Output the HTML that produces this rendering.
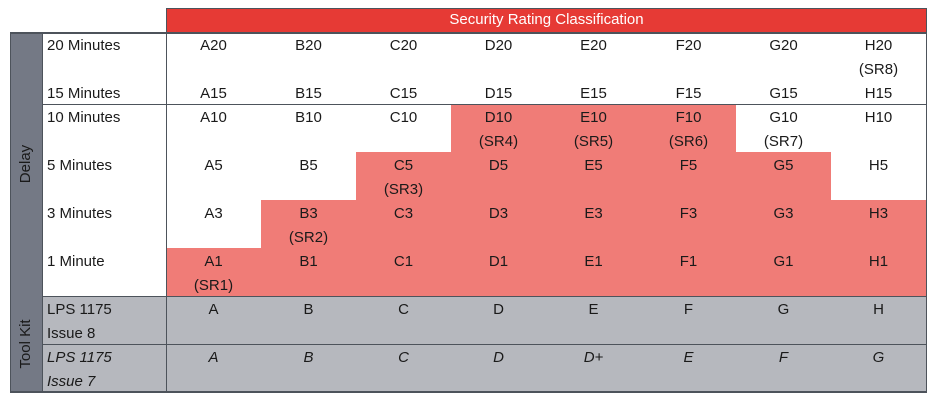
<!DOCTYPE html>
<html><head><style>
body{margin:0;width:937px;height:406px;background:#fff;position:relative;font-family:"Liberation Sans",sans-serif;font-size:15px;color:#1a1a1a;overflow:hidden}
div{position:absolute;box-sizing:border-box}
.l{line-height:24px;white-space:pre}
.c{text-align:center;width:95px}
.red{background:#f07c77}
.gray{background:#b6b8be}
.h{background:#e63a35;color:#fff;text-align:center;line-height:24px}
.bd{background:#4d535b}
i{font-style:italic}
</style></head><body>
<div class="h" style="left:166px;top:8px;width:761px;height:24px">Security Rating Classification</div>
<div style="left:10px;top:32px;width:32px;height:360px;background:#747985"></div>
<div style="left:10px;top:32px;width:32px;height:264px"><div style="left:-40px;top:120px;width:112px;text-align:center;transform:rotate(-90deg);line-height:24px;color:#1a1a1a">Delay</div></div>
<div style="left:10px;top:296px;width:32px;height:96px"><div style="left:-40px;top:36px;width:112px;text-align:center;transform:rotate(-90deg);line-height:24px;color:#1a1a1a">Tool Kit</div></div>
<div class="red" style="left:166px;top:248px;width:95px;height:48px"></div>
<div class="red" style="left:261px;top:200px;width:95px;height:96px"></div>
<div class="red" style="left:356px;top:152px;width:95px;height:144px"></div>
<div class="red" style="left:451px;top:104px;width:285px;height:192px"></div>
<div class="red" style="left:736px;top:152px;width:95px;height:144px"></div>
<div class="red" style="left:831px;top:200px;width:96px;height:96px"></div>
<div class="gray" style="left:42px;top:296px;width:885px;height:96px"></div>
<div class="bd" style="left:10px;top:32px;width:917px;height:2px"></div>
<div class="bd" style="left:42px;top:104px;width:885px;height:1px"></div>
<div class="bd" style="left:42px;top:296px;width:885px;height:1px"></div>
<div class="bd" style="left:42px;top:344px;width:885px;height:1px"></div>
<div class="bd" style="left:10px;top:391px;width:917px;height:2px"></div>
<div class="bd" style="left:166px;top:8px;width:1px;height:384px"></div>
<div class="bd" style="left:926px;top:8px;width:1px;height:384px"></div>
<div class="bd" style="left:42px;top:32px;width:1px;height:360px"></div>
<div class="bd" style="left:10px;top:32px;width:1px;height:360px"></div>
<div class="bd" style="left:166px;top:8px;width:761px;height:1px"></div>
<div class="l" style="left:47px;top:34px">20 Minutes

15 Minutes
10 Minutes

5 Minutes

3 Minutes

1 Minute

LPS 1175
Issue 8
<i>LPS 1175</i>
<i>Issue 7</i></div>
<div class="l c" style="left:166px;top:34px">A20

A15
A10

A5

A3

A1
(SR1)
A

<i>A</i></div>
<div class="l c" style="left:261px;top:34px">B20

B15
B10

B5

B3
(SR2)
B1

B

<i>B</i></div>
<div class="l c" style="left:356px;top:34px">C20

C15
C10

C5
(SR3)
C3

C1

C

<i>C</i></div>
<div class="l c" style="left:451px;top:34px">D20

D15
D10
(SR4)
D5

D3

D1

D

<i>D</i></div>
<div class="l c" style="left:546px;top:34px">E20

E15
E10
(SR5)
E5

E3

E1

E

<i>D+</i></div>
<div class="l c" style="left:641px;top:34px">F20

F15
F10
(SR6)
F5

F3

F1

F

<i>E</i></div>
<div class="l c" style="left:736px;top:34px">G20

G15
G10
(SR7)
G5

G3

G1

G

<i>F</i></div>
<div class="l c" style="left:831px;top:34px">H20
(SR8)
H15
H10

H5

H3

H1

H

<i>G</i></div>
</body></html>
